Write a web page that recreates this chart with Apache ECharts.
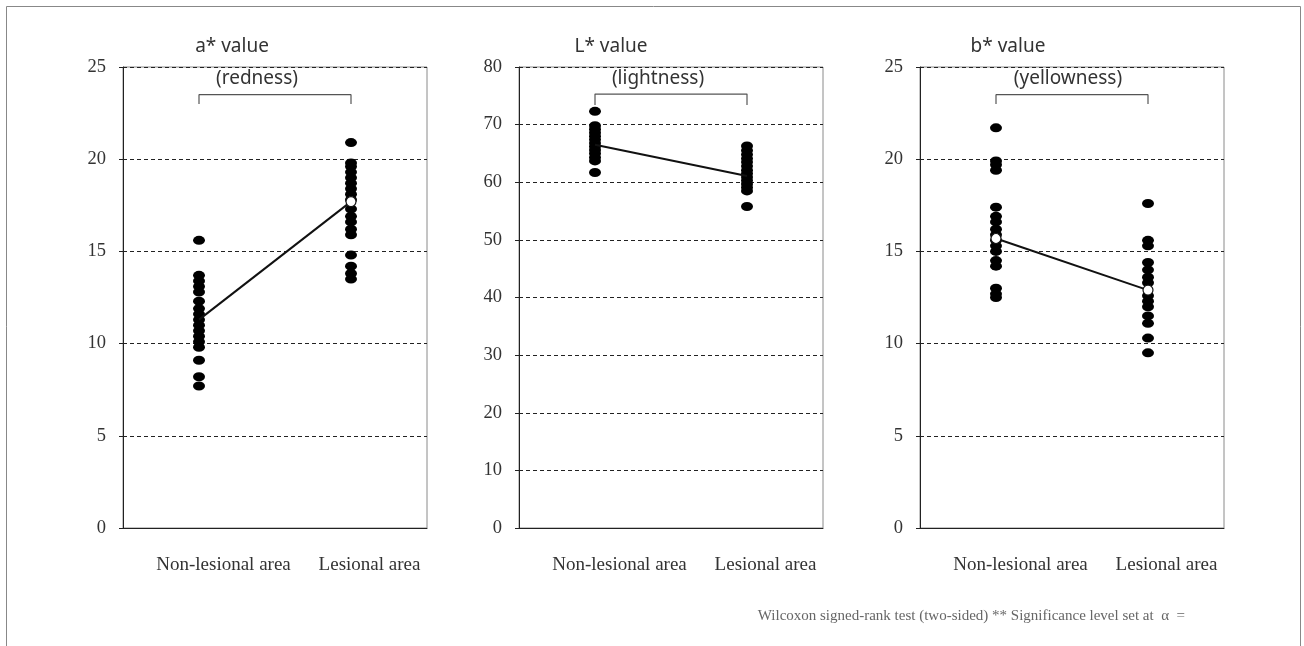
<!DOCTYPE html>
<html>
<head>
<meta charset="utf-8">
<script src="https://cdn.jsdelivr.net/npm/echarts@6/dist/echarts.min.js"></script>
<style>html,body{margin:0;padding:0;background:#fff}#c{width:1304px;height:646px}</style>
</head>
<body>
<div id="c"></div>
<script>
const categories = ['Non-lesional area', 'Lesional area'];

const aNon = [15.6, 13.7, 13.4, 13.1, 12.8, 12.3, 11.9, 11.6, 11.3, 11.0, 10.7, 10.4, 10.1, 9.8, 9.1, 8.2, 7.7];
const aLes = [20.9, 19.8, 19.6, 19.3, 19.0, 18.7, 18.4, 18.1, 17.8, 17.3, 16.9, 16.6, 16.2, 15.9, 14.8, 14.2, 13.8, 13.5];
const aMean = [11.3, 17.7];

const lNon = [72.3, 69.8, 69.2, 68.6, 68.0, 67.4, 66.8, 66.2, 65.6, 65.0, 64.3, 63.7, 61.7];
const lLes = [66.3, 65.5, 64.8, 64.1, 63.5, 62.8, 62.1, 61.5, 60.9, 60.3, 59.7, 59.1, 58.5, 55.8];
const lMean = [66.5, 61.1];

const bNon = [21.7, 19.9, 19.7, 19.4, 17.4, 16.9, 16.6, 16.2, 15.9, 15.6, 15.3, 15.0, 14.5, 14.2, 13.0, 12.7, 12.5];
const bLes = [17.6, 15.6, 15.3, 14.4, 14.0, 13.6, 13.3, 12.6, 12.3, 12.0, 11.5, 11.1, 10.3, 9.5];
const bMean = [15.7, 12.9];

const panels = [
  {title: 'a* value', sub: '(redness)', non: aNon, les: aLes, mean: aMean, max: 25, interval: 5, bracket: [23.0, 23.5], hollow: [false, true]},
  {title: 'L* value', sub: '(lightness)', non: lNon, les: lLes, mean: lMean, max: 80, interval: 10, bracket: [73.4, 75.3], hollow: [false, false]},
  {title: 'b* value', sub: '(yellowness)', non: bNon, les: bLes, mean: bMean, max: 25, interval: 5, bracket: [23.0, 23.5], hollow: [true, true]}
];

const gridLefts = [123, 519, 920];
const gridW = 304;
const titleX = [227, 606, 1003];
const subX = [252, 653, 1063];

const serif = 'Liberation Serif';
const sans = 'Noto Sans';

const grids = [], xAxes = [], yAxes = [], series = [], titles = [];
panels.forEach((p, i) => {
  grids.push({left: gridLefts[i], top: 67, width: gridW, height: 461, show: true, borderColor: '#8a8a8a', borderWidth: 1, containLabel: false});
  xAxes.push({
    type: 'category', gridIndex: i, data: categories,
    axisLine: {show: true, lineStyle: {color: '#222', width: 1}},
    axisTick: {show: false},
    axisLabel: {
      interval: 0, margin: 28,
      formatter: (v, idx) => (idx === 0 ? '{n|' : '{l|') + v + '}',
      rich: {
        n: {fontFamily: serif, fontSize: 19, color: '#333', padding: [0, 0, 0, 49]},
        l: {fontFamily: serif, fontSize: 19, color: '#333', padding: [0, 0, 0, 37]}
      }
    }
  });
  yAxes.push({
    type: 'value', gridIndex: i, min: 0, max: p.max, interval: p.interval,
    axisLine: {show: true, lineStyle: {color: '#222', width: 1}},
    axisTick: {show: true, length: 4, inside: false, lineStyle: {color: '#222'}},
    axisLabel: {fontFamily: serif, fontSize: 18.5, color: '#333', margin: 17},
    splitLine: {show: true, lineStyle: {color: '#222', type: [4, 3], width: 1}}
  });
  series.push({
    type: 'scatter', xAxisIndex: i, yAxisIndex: i,
    data: p.non.map(v => [0, v]).concat(p.les.map(v => [1, v])),
    symbol: 'circle', symbolSize: [12, 9],
    itemStyle: {color: '#000', opacity: 1}, z: 3, silent: true
  });
  series.push({
    type: 'line', xAxisIndex: i, yAxisIndex: i,
    data: p.mean.map((v, k) => ({value: [k, v], symbol: p.hollow[k] ? 'circle' : 'none'})),
    symbolSize: 10,
    itemStyle: {color: '#fff', borderColor: '#111', borderWidth: 1.2},
    lineStyle: {color: '#111', width: 2},
    z: 4, silent: true
  });
  series.push({
    type: 'line', xAxisIndex: i, yAxisIndex: i,
    data: [[0, p.bracket[0]], [0, p.bracket[1]], [1, p.bracket[1]], [1, p.bracket[0]]],
    symbol: 'none', lineStyle: {color: '#555', width: 1.2}, z: 2, silent: true
  });
  titles.push({text: p.title, left: titleX[i], top: 32, textAlign: 'center',
    textStyle: {fontFamily: sans, fontSize: 19, fontWeight: 'normal', color: '#333'}});
  titles.push({text: p.sub, left: subX[i], top: 64, textAlign: 'center',
    textStyle: {fontFamily: sans, fontSize: 19, fontWeight: 'normal', color: '#333'}});
});

titles.push({text: 'Wilcoxon signed-rank test (two-sided) ** Significance level set at  \u03B1  =',
  right: 114, top: 604,
  textStyle: {fontFamily: serif, fontSize: 15, fontWeight: 'normal', color: '#666'}});

const chart = echarts.init(document.getElementById('c'), null, {renderer: 'canvas'});
chart.setOption({
  backgroundColor: '#fff',
  animation: false,
  title: titles,
  grid: grids,
  xAxis: xAxes,
  yAxis: yAxes,
  series: series,
  graphic: [{type: 'rect', shape: {x: 6.5, y: 6.5, width: 1294, height: 700}, style: {fill: 'none', stroke: '#888', lineWidth: 1}, silent: true}]
});
</script>
</body>
</html>
